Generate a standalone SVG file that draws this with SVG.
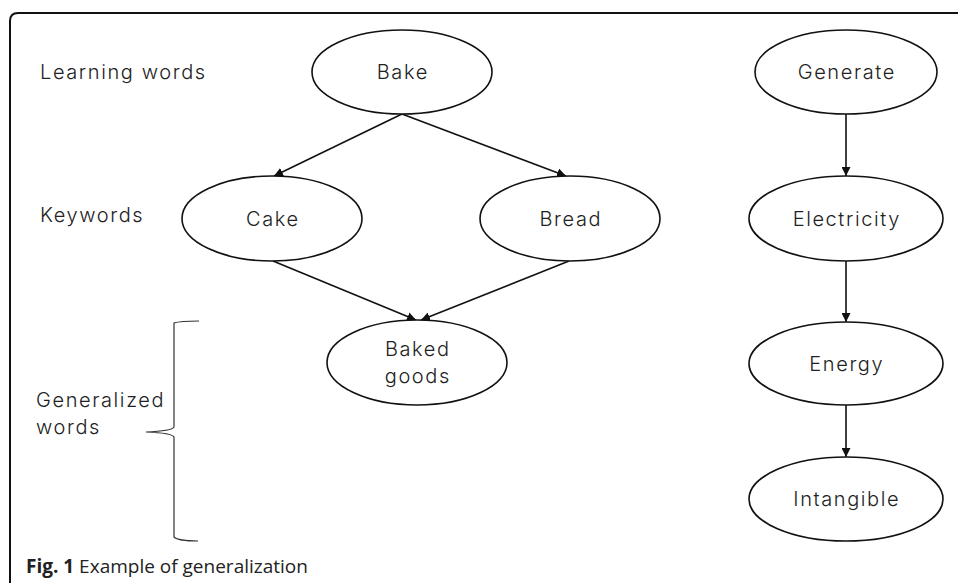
<svg xmlns="http://www.w3.org/2000/svg" width="958" height="583" viewBox="0 0 958 583">
  <style>
    .node ellipse { fill: #fff; stroke: #111; stroke-width: 1.6; }
    .label { font-family: Inter, "Noto Sans", sans-serif; font-size: 20px; font-weight: 300; letter-spacing: 1.6px; fill: #222; }
    .node text { text-anchor: middle; }
    .edge { stroke: #111; stroke-width: 1.6; fill: none; marker-end: url(#arrow); }
    .caption { font-family: "Open Sans", "Noto Sans", sans-serif; font-size: 19px; fill: #222; }
  </style>
  <defs>
    <marker id="arrow" viewBox="0 0 10 10" refX="10" refY="5" markerWidth="9" markerHeight="9" markerUnits="userSpaceOnUse" orient="auto">
      <path d="M0,0 L10,5 L0,10 Z" fill="#111"/>
    </marker>
  </defs>
  <rect width="958" height="583" fill="#fff"/>
  <!-- frame, open to the right and bottom -->
  <path d="M10,583 V21 Q10,13 18,13 H958" fill="none" stroke="#111" stroke-width="2"/>

  <!-- row labels -->
  <text class="label" x="40" y="79">Learning words</text>
  <text class="label" x="40" y="222">Keywords</text>
  <text class="label" x="36" y="407">Generalized</text>
  <text class="label" x="36" y="434">words</text>
  <!-- brace grouping generalized words -->
  <path d="M199,321 Q180,321 174,323 V427 Q172,431 146,432 Q172,433 174,437 V537 Q178,541 198,541" fill="none" stroke="#333" stroke-width="1.2"/>

  <g id="connectors">
    <line class="edge" x1="402" y1="114" x2="274" y2="176"/>
    <line class="edge" x1="402" y1="114" x2="566" y2="176"/>
    <line class="edge" x1="273" y1="261" x2="416" y2="320"/>
    <line class="edge" x1="569" y1="261" x2="421" y2="320"/>
    <line class="edge" x1="846" y1="114" x2="846" y2="176"/>
    <line class="edge" x1="846" y1="261" x2="846" y2="322"/>
    <line class="edge" x1="846" y1="405" x2="846" y2="457"/>
  </g>

  <g id="bake" class="node">
    <ellipse cx="402" cy="72" rx="90" ry="42"/>
    <text class="label" x="402.8" y="79">Bake</text>
  </g>
  <g id="generate" class="node">
    <ellipse cx="846" cy="72" rx="91" ry="42"/>
    <text class="label" x="846.8" y="79">Generate</text>
  </g>
  <g id="cake" class="node">
    <ellipse cx="272" cy="218.5" rx="90" ry="42.5"/>
    <text class="label" x="272.8" y="226">Cake</text>
  </g>
  <g id="bread" class="node">
    <ellipse cx="570" cy="218.5" rx="90" ry="42.5"/>
    <text class="label" x="570.8" y="226">Bread</text>
  </g>
  <g id="electricity" class="node">
    <ellipse cx="846" cy="218.5" rx="97" ry="42.5"/>
    <text class="label" x="846.8" y="226">Electricity</text>
  </g>
  <g id="baked-goods" class="node">
    <ellipse cx="417" cy="362.5" rx="90" ry="42.5"/>
    <text class="label" x="417.8" y="356">Baked</text>
    <text class="label" x="417.8" y="383">goods</text>
  </g>
  <g id="energy" class="node">
    <ellipse cx="846" cy="363.5" rx="97" ry="41.5"/>
    <text class="label" x="846.8" y="371">Energy</text>
  </g>
  <g id="intangible" class="node">
    <ellipse cx="846" cy="499" rx="97" ry="42"/>
    <text class="label" x="846.8" y="506">Intangible</text>
  </g>

  <text class="caption" x="26" y="573"><tspan font-weight="bold">Fig. 1</tspan> Example of generalization</text>
</svg>
